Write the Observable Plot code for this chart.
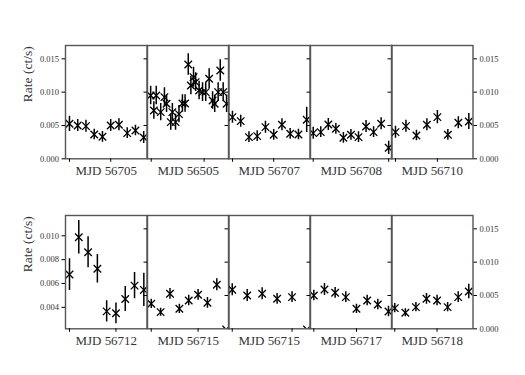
<!DOCTYPE html>
<html><head><meta charset="utf-8">
<script src="https://cdn.jsdelivr.net/npm/d3@7"></script>
<script src="https://cdn.jsdelivr.net/npm/@observablehq/plot@0.6"></script>
<style>
body{margin:0;background:#fff;}
#chart{position:relative;width:525px;height:375px;overflow:hidden;}
#chart svg{position:absolute;overflow:visible;max-width:none;}
</style></head><body><div id="chart"></div>
<script>
// ---- data ----
const panelLabels = ["MJD 56705","MJD 56505","MJD 56707","MJD 56708","MJD 56710",
                     "MJD 56712","MJD 56715","MJD 56715","MJD 56717","MJD 56718"];
// observation time offsets within each window (arbitrary bins)
const times = [
  [0,1,2,3,4,5,6,7,8,9],
  [-0.1,0.5,0.95,1.8,2.5,2.9,3.7,4.0,4.6,5.25,5.9,6.4,7.0,7.5,8.0,8.4,9.05,9.7,10.3,10.95,11.6,12.0,12.65,13.05,13.6,14.25],
  [0,1,2,3,4,5,6,7,8,9],
  [0,1,2,3,4,5,6,7,8,9,10],
  [0,1,2,3,4,5,6,7],
  [0,1,2,3,4,5,6,7,8],
  [0,1,2,3,4,5,6,7,8],
  [0,1,2,3,4,5],
  [0,1,2,3,4,5,6,7],
  [0,1,2,3,4,5,6,7]
];
const rates = [
  [0.00525,0.0050,0.0049,0.00365,0.0033,0.0050,0.0051,0.00385,0.00425,0.0032],
  [0.0095,0.00725,0.0095,0.0070,0.00925,0.00825,0.0055,0.0070,0.0055,0.0067,0.0083,0.0083,0.01415,0.0110,0.01225,0.0115,0.01025,0.0100,0.0100,0.0120,0.00875,0.00825,0.0100,0.01325,0.0100,0.00825],
  [0.00625,0.00565,0.00325,0.0034,0.00475,0.0036,0.0051,0.00375,0.00365,0.00585],
  [0.00385,0.0040,0.00515,0.0045,0.00315,0.0036,0.00325,0.00485,0.0040,0.00525,0.00165],
  [0.0040,0.0049,0.0035,0.0051,0.00625,0.0036,0.0054,0.0056],
  [0.00675,0.00988,0.00862,0.00723,0.00366,0.0035,0.0047,0.00582,0.00546],
  [0.00375,0.0025,0.00525,0.0030,0.00425,0.0051,0.0039,0.0066,-0.0001],
  [0.00585,0.0050,0.00525,0.0045,0.00475,-0.0001],
  [0.0050,0.0059,0.0054,0.00475,0.0030,0.00425,0.00365,0.0026],
  [0.0031,0.0024,0.00325,0.0045,0.00425,0.00325,0.00475,0.0056]
];
const errors = [
  [0.00115,0.0009,0.0009,0.0008,0.0008,0.0009,0.0009,0.0008,0.0008,0.0009],
  [0.0014,0.0013,0.0014,0.0013,0.0014,0.0013,0.0012,0.0013,0.0012,0.0013,0.0013,0.0013,0.0016,0.0014,0.0015,0.0014,0.0014,0.0014,0.0014,0.0015,0.0013,0.0013,0.0014,0.0016,0.0014,0.0013],
  [0.0009,0.0009,0.0008,0.0008,0.0009,0.0008,0.0009,0.0008,0.0008,0.0019],
  [0.0009,0.0008,0.0009,0.0008,0.0008,0.0008,0.0008,0.0009,0.0008,0.0009,0.0010],
  [0.0009,0.0009,0.0008,0.0009,0.0010,0.0008,0.0009,0.0012],
  [0.00133,0.0014,0.0013,0.0012,0.0009,0.00087,0.00105,0.0011,0.0014],
  [0.0007,0.0006,0.0008,0.0007,0.0008,0.0008,0.0008,0.0009,0],
  [0.0009,0.0009,0.0009,0.0008,0.0008,0],
  [0.0008,0.0009,0.0008,0.0008,0.0007,0.0008,0.0008,0.0008],
  [0.0007,0.0006,0.0007,0.0008,0.0008,0.0007,0.0008,0.0011]
];
// time span of each window and its ticks
const xDomains = [[-0.48,9.4],[-0.7,14.7],[-0.48,9.4],[-0.36,10.44],[-0.38,7.4],
                  [-0.43,8.34],[-0.4,8.3],[-0.25,5.2],[-0.31,7.33],[-0.31,7.4]];
const xTicks = [[0,5],[0,10],[0,5],[0,10],[0,4],[0,5],[0,5],[0,4],[0,4],[0,4]];
const rateDomain = [0, 0.017];
const firstBottomDomain = [0.0022, 0.0117];
const yTicksFull = [0, 0.005, 0.010, 0.015];
const yTicksInner = [0.005, 0.010, 0.015];
const yTicksFirstBottom = [0.004, 0.006, 0.008, 0.010];
const yLabel = "Rate (ct/s)";

// ---- layout ----
const rowTops = [45, 215];
const panelH = 113.3;
const frameLeft = 65;
const panelW = 81.5;
const font = "'Liberation Serif', 'DejaVu Serif', serif";
const chart = document.getElementById("chart");

for (let r = 0; r < 2; r++) {
  for (let i = 0; i < 5; i++) {
    const idx = r * 5 + i;
    const first = i === 0, last = i === 4;
    const mL = first ? 55 : 6, mR = last ? 50 : 6, mT = 4, mB = 30;
    const yDomain = (r === 1 && i === 0) ? firstBottomDomain : rateDomain;
    const rows = times[idx].map((t, k) => ({t, rate: rates[idx][k], err: errors[idx][k]}));
    const marks = [
      Plot.ruleX(rows.filter(d => d.err > 0), {x: "t", y1: d => d.rate - d.err, y2: d => d.rate + d.err,
        stroke: "#000", strokeWidth: 1.5, clip: true}),
      Plot.dot(rows, {x: "t", y: "rate", symbol: "times", r: 3.5, stroke: "#000", strokeWidth: 1.3, clip: true}),
      Plot.frame({stroke: "#555", strokeWidth: 1.4}),
      Plot.axisX({ticks: xTicks[idx], tickFormat: () => "", tickSize: 3.5, label: null, stroke: "#000"}),
      Plot.axisY({anchor: "left",
        ticks: first ? (r === 1 ? yTicksFirstBottom : yTicksFull) : yTicksInner,
        tickFormat: first ? ".3f" : () => "", tickSize: 3.5, tickPadding: 3, fontSize: 8.5,
        fontFamily: font, fill: "#333", label: null}),
      Plot.text([panelLabels[idx]], {frameAnchor: "bottom", dy: 16, fontSize: 13, fontFamily: font,
        text: d => d, fill: "#333"})
    ];
    if (last) marks.push(Plot.axisY({anchor: "right", ticks: yTicksFull, tickFormat: ".3f",
      tickSize: 3.5, tickPadding: 3, fontSize: 8.5, fontFamily: font, fill: "#333", label: null}));
    if (first) marks.push(Plot.text([yLabel], {frameAnchor: "left", dx: -38, rotate: -90, fontSize: 13.5,
      fontFamily: font, text: d => d, fill: "#333"}));
    const svg = Plot.plot({
      width: panelW + mL + mR,
      height: panelH + mT + mB,
      marginLeft: mL, marginRight: mR, marginTop: mT, marginBottom: mB,
      x: {domain: xDomains[idx]},
      y: {domain: yDomain},
      style: {fontFamily: font, background: "transparent", overflow: "visible", color: "#000"},
      marks
    });
    svg.style.left = (frameLeft + i * panelW - mL) + "px";
    svg.style.top = (rowTops[r] - mT) + "px";
    chart.appendChild(svg);
  }
}
</script></body></html>
